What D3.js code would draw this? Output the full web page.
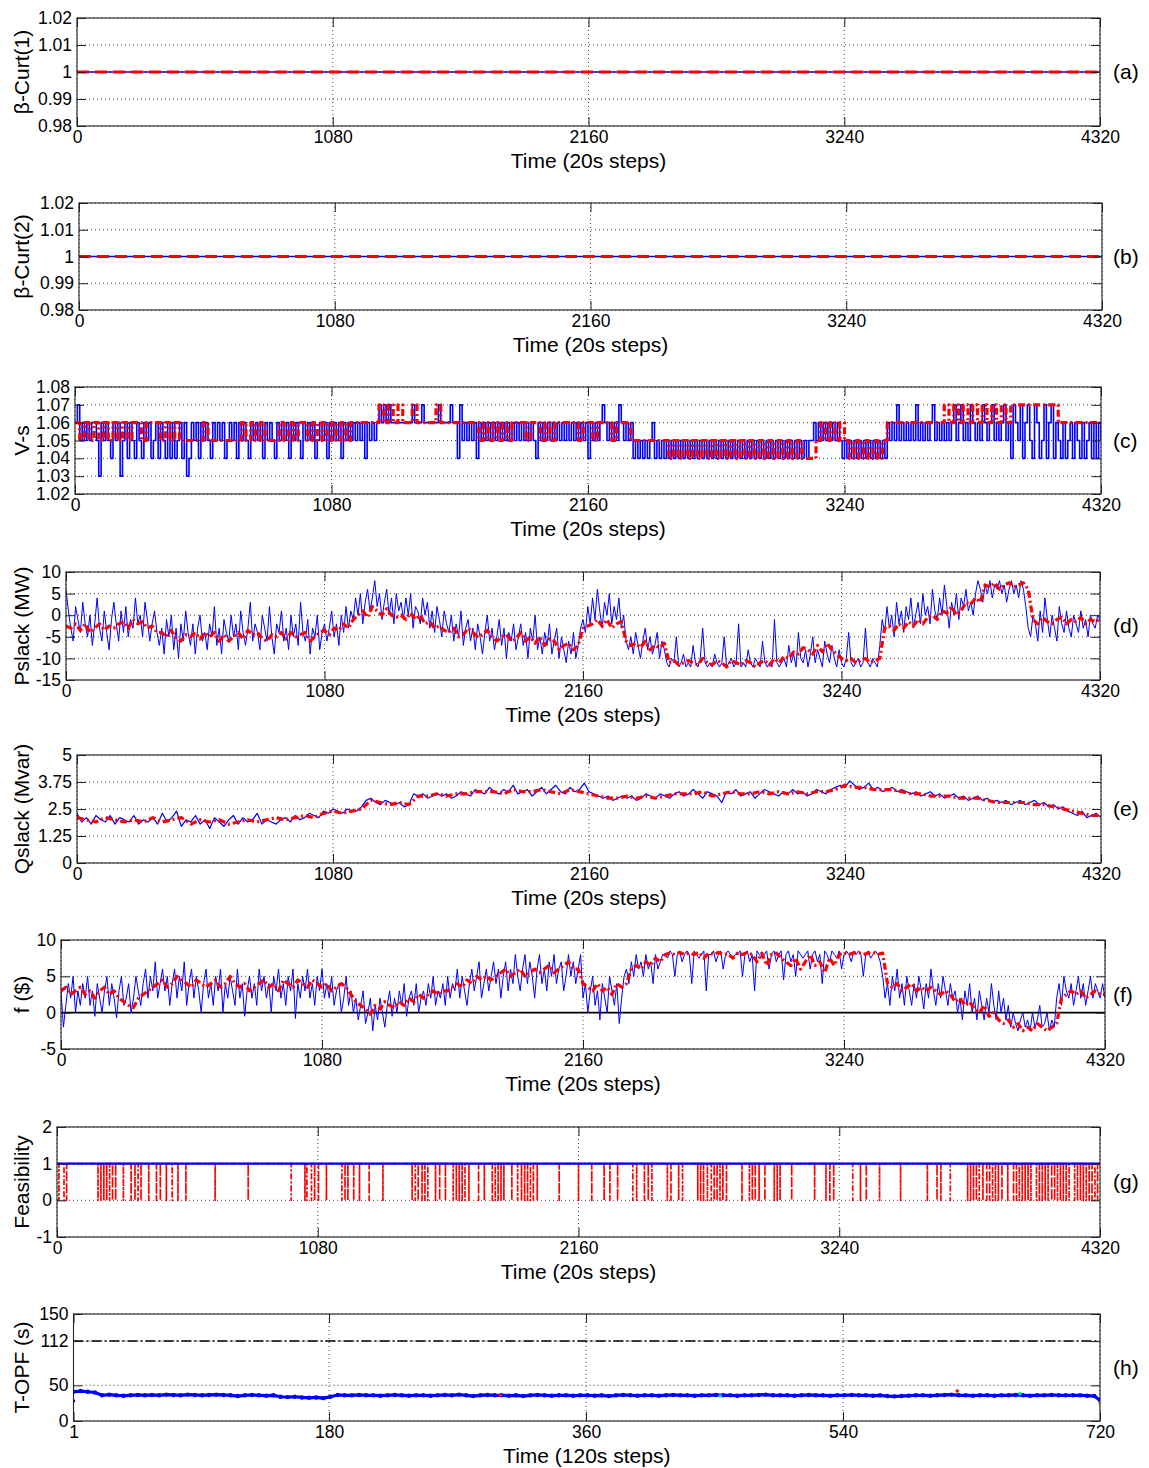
<!DOCTYPE html>
<html><head><meta charset="utf-8">
<script src="https://cdn.jsdelivr.net/npm/d3@7"></script>
<style>
body{margin:0;background:#fff;}
svg{display:block;font-family:"Liberation Sans",Arial,Helvetica,sans-serif;}
</style></head><body>
<svg id="chart" width="1149" height="1468"></svg>
<script>
// ---------------- DATA ----------------
const xTicks20 = [0, 1080, 2160, 3240, 4320];
const xTicks120 = [1, 180, 360, 540, 720];
const yTicksBeta = [0.98, 0.99, 1, 1.01, 1.02];
const yTicksVs = [1.02, 1.03, 1.04, 1.05, 1.06, 1.07, 1.08];
const yTicksP = [-15, -10, -5, 0, 5, 10];
const yTicksQ = [0, 1.25, 2.5, 3.75, 5];
const yTicksF = [-5, 0, 5, 10];
const yTicksFeas = [-1, 0, 1, 2];
const yTicksOPF = [0, 50, 112, 150];

// sampling intervals (time steps between stored samples)
const STEP_FINE = 10, STEP_MID = 20, STEP_COARSE = 40, STEP_OPF = 5;

// (a),(b) beta curtailment: constant at 1
const betaT = [0, 4320];
const beta1Blue = [1, 1], beta1Red = [1, 1];
const beta2Blue = [1, 1], beta2Red = [1, 1];

// (c) V-s, blue every 10 steps
const vsBlue = [
1.06,1.07,1.05,1.06,1.05,1.06,1.05,1.06,1.06,1.05,
1.03,1.06,1.05,1.06,1.05,1.04,1.06,1.05,1.06,1.03,
1.05,1.06,1.04,1.06,1.05,1.04,1.06,1.05,1.04,1.06,
1.05,1.06,1.04,1.05,1.06,1.04,1.06,1.05,1.04,1.06,
1.04,1.06,1.04,1.05,1.06,1.04,1.06,1.03,1.04,1.06,
1.05,1.06,1.04,1.06,1.05,1.06,1.05,1.04,1.06,1.05,
1.06,1.05,1.06,1.04,1.05,1.06,1.05,1.06,1.04,1.06,
1.05,1.06,1.05,1.04,1.06,1.05,1.06,1.05,1.06,1.04,
1.06,1.05,1.06,1.05,1.04,1.06,1.05,1.06,1.05,1.06,
1.04,1.06,1.05,1.06,1.05,1.04,1.06,1.05,1.06,1.05,
1.06,1.04,1.05,1.06,1.05,1.06,1.04,1.06,1.05,1.06,
1.05,1.06,1.04,1.06,1.05,1.06,1.05,1.06,1.05,1.06,
1.05,1.06,1.04,1.06,1.05,1.06,1.05,1.06,1.07,1.06,
1.07,1.06,1.07,1.06,1.06,1.06,1.06,1.06,1.06,1.06,
1.06,1.06,1.07,1.06,1.06,1.06,1.07,1.06,1.06,1.06,
1.06,1.06,1.06,1.07,1.06,1.06,1.06,1.06,1.07,1.06,
1.06,1.04,1.07,1.05,1.06,1.05,1.06,1.05,1.06,1.04,
1.06,1.05,1.06,1.05,1.06,1.05,1.06,1.05,1.06,1.05,
1.06,1.05,1.06,1.05,1.06,1.05,1.06,1.05,1.06,1.05,
1.06,1.05,1.06,1.05,1.04,1.06,1.05,1.06,1.05,1.06,
1.05,1.06,1.05,1.06,1.05,1.06,1.05,1.06,1.05,1.06,
1.05,1.06,1.05,1.06,1.05,1.06,1.04,1.06,1.05,1.06,
1.05,1.06,1.07,1.06,1.05,1.06,1.05,1.06,1.05,1.07,
1.06,1.05,1.06,1.05,1.06,1.04,1.05,1.04,1.05,1.04,
1.05,1.04,1.05,1.06,1.04,1.05,1.04,1.05,1.04,1.05,
1.04,1.05,1.04,1.05,1.04,1.05,1.04,1.05,1.04,1.05,
1.04,1.05,1.04,1.05,1.04,1.05,1.04,1.05,1.04,1.05,
1.04,1.05,1.04,1.05,1.04,1.05,1.04,1.05,1.04,1.05,
1.04,1.05,1.04,1.05,1.04,1.05,1.04,1.05,1.04,1.05,
1.04,1.05,1.04,1.05,1.04,1.05,1.04,1.05,1.04,1.05,
1.04,1.05,1.04,1.05,1.04,1.05,1.04,1.05,1.04,1.05,
1.05,1.06,1.05,1.06,1.05,1.06,1.05,1.06,1.05,1.06,
1.05,1.06,1.05,1.04,1.05,1.04,1.05,1.04,1.05,1.04,
1.05,1.04,1.05,1.04,1.05,1.04,1.05,1.04,1.05,1.04,
1.05,1.04,1.06,1.05,1.06,1.05,1.07,1.05,1.06,1.05,
1.06,1.05,1.06,1.05,1.07,1.05,1.06,1.05,1.06,1.05,
1.06,1.07,1.05,1.06,1.05,1.06,1.05,1.06,1.05,1.06,
1.07,1.05,1.06,1.07,1.05,1.06,1.05,1.07,1.06,1.05,
1.06,1.05,1.07,1.06,1.05,1.06,1.07,1.05,1.06,1.05,
1.06,1.07,1.05,1.06,1.04,1.07,1.06,1.05,1.07,1.04,
1.06,1.07,1.05,1.04,1.07,1.06,1.04,1.05,1.07,1.04,
1.06,1.07,1.04,1.06,1.05,1.04,1.06,1.04,1.05,1.06,
1.04,1.06,1.05,1.04,1.06,1.04,1.05,1.06,1.04,1.06,
1.04,1.06,1.05];
// (c) V-s, red every 20 steps
const vsRed = [
1.06,1.05,1.06,1.05,1.06,1.05,1.06,1.05,1.06,1.05,
1.06,1.05,1.06,1.06,1.05,1.06,1.06,1.06,1.05,1.06,
1.05,1.06,1.05,1.05,1.05,1.05,1.05,1.06,1.05,1.05,
1.05,1.05,1.05,1.05,1.05,1.06,1.05,1.06,1.05,1.06,
1.05,1.05,1.05,1.06,1.05,1.06,1.05,1.06,1.06,1.05,
1.06,1.05,1.06,1.05,1.06,1.05,1.06,1.05,1.06,1.06,
1.06,1.06,1.06,1.06,1.07,1.06,1.07,1.06,1.07,1.06,
1.06,1.07,1.06,1.06,1.06,1.06,1.07,1.06,1.06,1.06,
1.06,1.06,1.06,1.06,1.06,1.05,1.06,1.05,1.06,1.05,
1.06,1.05,1.06,1.06,1.06,1.05,1.06,1.06,1.05,1.06,
1.05,1.06,1.06,1.06,1.06,1.06,1.05,1.06,1.06,1.05,
1.06,1.06,1.06,1.05,1.06,1.06,1.06,1.05,1.05,1.05,
1.05,1.05,1.05,1.05,1.05,1.04,1.05,1.04,1.05,1.04,
1.05,1.04,1.05,1.04,1.05,1.04,1.05,1.04,1.05,1.04,
1.05,1.04,1.05,1.04,1.05,1.04,1.05,1.04,1.05,1.04,
1.05,1.04,1.05,1.04,1.04,1.04,1.05,1.06,1.05,1.06,
1.05,1.06,1.05,1.04,1.05,1.04,1.05,1.04,1.05,1.04,
1.05,1.06,1.06,1.06,1.06,1.06,1.06,1.06,1.06,1.06,
1.06,1.06,1.06,1.07,1.06,1.07,1.06,1.07,1.06,1.07,
1.06,1.07,1.06,1.07,1.06,1.07,1.06,1.07,1.07,1.07,
1.07,1.07,1.07,1.07,1.07,1.07,1.07,1.06,1.06,1.06,
1.06,1.06,1.06,1.06,1.06,1.06,1.06];

// (d) Pslack (MW): blue every 10 steps, red every 20 steps
const pBlue = [
6,1,-3,-6,2,-1,-4,3,-2,-5,
0,-7,-2,4,-3,-6,1,-4,-8,-1,
3,-2,-6,1,-4,2,-5,-1,-3,4,
-2,0,-5,3,-1,-6,-2,1,-4,-7,
-3,-9,-1,-5,0,-8,-3,-10,-2,-6,
1,-4,-7,-2,-9,-3,0,-6,-4,-8,
-2,-5,2,-7,-3,-9,-1,-4,-6,0,
-5,-2,-8,1,-4,-7,-3,3,-6,-2,
-4,-8,0,-3,-6,2,-5,-9,-2,-4,
1,-6,-3,-8,0,-5,-2,-7,3,-4,
-6,-1,-9,-3,-5,0,-8,-4,-2,-6,
-3,1,-5,-2,-7,0,-4,2,-3,1,
-1,4,0,5,-2,3,6,1,4,8,
2,5,-1,3,6,0,4,-2,5,1,
3,-1,4,0,5,-3,2,1,-2,4,
0,3,-3,1,-4,2,-1,-5,1,-2,
-4,0,-6,-2,-5,1,-7,-3,-1,-6,
-3,-8,-2,-5,-9,-4,0,-6,-3,-8,
-5,-1,-7,-3,-10,-4,-6,-2,-8,-5,
-2,-7,-4,-10,-3,-6,0,-8,-5,-9,
-4,-7,-2,-9,-6,-3,-10,-5,-8,-11,
-6,-9,-4,-10,-7,-3,-1,-4,2,-2,
4,-1,6,1,-3,3,0,5,-2,2,
-1,4,-3,0,-6,-8,-5,-9,-4,-7,
-10,-6,-3,-8,-5,-9,-7,-4,-10,-6,
-8,-11,-12,-10,-11,-5,-12,-11,-9,-12,
-11,-12,-7,-11,-12,-10,-3,-11,-12,-11,
-12,-9,-11,-12,-11,-5,-12,-11,-10,-12,
-11,-2,-12,-11,-12,-8,-11,-12,-10,-11,
-12,-6,-11,-12,-11,-12,-1,-11,-12,-11,
-10,-12,-7,-11,-9,-12,-4,-10,-11,-8,
-12,-9,-5,-11,-8,-10,-12,-6,-9,-11,
-7,-10,-12,-8,-11,-12,-10,-4,-11,-12,
-11,-10,-12,-11,-3,-11,-12,-10,-11,-12,
-7,-1,-4,2,-3,0,-5,3,-2,1,
-4,2,-1,4,-3,0,3,-2,5,0,
2,-2,6,1,-1,4,0,7,2,-3,
3,0,5,-1,4,2,6,1,3,0,
5,8,6,3,7,5,8,4,7,6,
8,5,7,3,6,8,5,7,4,8,
6,2,-3,-5,0,-2,-6,1,-4,4,
-1,-5,0,-3,-6,2,-2,-4,1,-3,
-5,0,-2,-4,1,-3,-1,-5,0,-2,
-3,0,-1];
const pRed = [
-2.5,-3,-2,-3.5,-2,-4,-3,-2,-3.5,-2.5,
-3,-2,-1.5,-3,-1,-2,-1.5,-3,-2.5,-4,
-4,-5,-3.5,-5.5,-6,-4.5,-5,-4,-5.5,-4,
-5,-4,-6,-4.5,-6,-5,-4,-5.5,-3.5,-4.5,
-4,-5.5,-6,-4.5,-5,-4,-5.5,-4,-5,-4.5,
-4,-6,-5,-4,-3.5,-4.5,-3,-3.5,-2,-3,
-1,0,1,-0.5,2,1,0,1.5,0,-0.5,
0,-1,0.5,-1,0,-2,-1.5,-3,-2.5,-3.5,
-4,-3,-5,-4.5,-3,-4,-5,-4.5,-3.5,-5,
-6,-5,-4.5,-6,-5.5,-4,-6,-5,-6.5,-5,
-7,-5.5,-6,-8,-7,-6.5,-8,-7,-3,-2.5,
-2,-1,-2.5,-1,-3,-2,-1.5,-6,-7,-6.5,
-7.5,-6,-8,-7,-7.5,-6.5,-11,-10.5,-11.5,-11,
-10.5,-11,-11.5,-10,-11,-11.5,-10.5,-11,-12,-10.5,
-11,-11.5,-10.5,-11,-12,-11,-10.5,-11.5,-10,-11,
-9.5,-10,-8.5,-9,-7.5,-8,-9,-7,-8.5,-6.5,
-8,-9,-10,-10.5,-10,-11,-10.5,-10,-11,-10.5,
-10,-3,-2.5,-3.5,-2,-3,-1.5,-2.5,-1,-2,
-0.5,0,-1,1,0.5,2,0,1,3,2.5,
4,3,7,6.5,7.5,6,7,7.5,6.5,7,
7.5,6,-1,-2,-0.5,-1.5,-2,-1,-0.5,-2,
-1,-1.5,-0.5,-2,-1,-1.5,-1];

// (e) Qslack (Mvar): blue every 20 steps, red every 40 steps
const qBlue = [
2.3,1.9,2.1,1.8,2.2,2.0,1.9,2.2,1.8,2.1,
2.0,1.9,2.2,1.8,2.0,1.9,2.1,1.8,2.3,1.9,
2.1,2.4,1.7,2.0,1.9,2.2,1.8,2.0,1.6,2.1,
1.9,1.7,2.0,2.2,1.8,2.1,1.9,2.0,2.3,1.8,
2.0,1.9,1.8,2.0,2.1,1.9,2.2,2.0,2.1,2.3,
2.2,2.1,2.4,2.3,2.5,2.4,2.3,2.5,2.4,2.4,
2.6,2.9,3.0,2.8,2.7,2.9,2.8,2.7,2.8,2.6,2.7,
3.2,3.1,3.2,3.0,3.1,3.2,3.1,3.2,3.0,3.1,3.3,3.2,3.1,3.4,3.3,
3.2,3.5,3.3,3.2,3.4,3.3,3.6,3.2,3.3,3.4,3.1,3.3,3.5,3.2,3.4,3.6,3.3,3.2,3.5,3.3,3.4,3.7,3.3,3.2,3.1,
3.0,3.1,2.9,3.0,3.1,3.0,3.1,2.9,3.0,3.2,3.1,3.0,3.2,3.1,3.0,
3.2,3.3,3.1,3.2,3.4,3.2,3.0,3.3,3.2,3.1,2.8,3.3,3.2,3.4,3.1,3.2,3.3,3.0,3.2,3.4,3.3,3.2,3.1,3.3,3.2,3.4,3.2,3.3,3.1,3.2,3.4,3.3,3.2,3.4,3.5,
3.6,3.5,3.8,3.6,3.4,3.5,3.7,3.4,3.5,3.3,3.4,3.5,3.3,3.4,3.3,
3.2,3.3,3.1,3.2,3.3,3.1,3.2,3.0,3.1,3.2,3.0,3.1,2.9,3.0,3.1,
2.9,3.0,2.8,2.9,2.8,2.9,2.7,2.8,2.9,2.7,2.8,2.9,2.7,2.8,2.6,
2.7,2.5,2.6,2.4,2.3,2.2,2.4,2.1,2.2,2.3,2.1];
const qRed = [
2.1,2.0,1.9,2.1,2.0,1.9,2.0,1.9,2.1,1.9,2.0,2.1,1.8,2.0,1.9,2.0,1.8,1.9,2.0,1.9,2.0,2.1,2.0,2.1,2.2,2.1,
2.3,2.4,2.3,2.4,2.5,
2.9,2.8,2.7,2.8,2.7,
3.1,3.1,3.2,3.1,3.2,3.2,3.3,
3.3,3.3,3.2,3.4,3.3,3.3,3.4,3.3,3.2,3.4,3.3,3.2,3.1,
3.0,3.0,3.1,3.0,3.1,3.0,3.1,
3.2,3.2,3.2,3.3,3.1,3.2,3.3,3.2,3.2,3.3,3.2,3.3,3.2,3.3,3.2,3.3,3.3,3.4,
3.6,3.5,3.5,3.4,3.4,3.4,3.3,
3.2,3.2,3.1,3.1,3.1,3.0,3.0,3.0,
2.9,2.8,2.8,2.8,2.8,2.7,2.7,
2.6,2.5,2.4,2.3,2.2,2.2];

// (f) f ($): blue every 10 steps, red every 20 steps
const fBlue = [
3,-2,1,4,2,5,0,3,1,4,
2,5,1,3,-0.5,4,2,0,3,5,
1,4,2,-0.7,3,5,1,2,4,0,
2,5,3,1,4,6,2,5,3,7,
2,4,6,3,5,1,4,6,2,5,
3,7,1,4,6,2,5,3,0,4,
6,2,4,1,5,3,6,0,4,2,
5,3,1,6,2,4,-0.5,3,5,2,
4,1,6,3,5,2,4,0,5,3,
6,2,4,1,5,3,6,-0.8,4,2,
5,3,6,2,4,1,5,3,6,2,
4,2,5,1,3,4,0,2,5,1,
3,0,2,-1,1,3,-1.5,0,2,-2.5,
1,-1,2,0,-2,1,3,-0.5,2,0,
3,1,4,-0.5,2,3,1,4,0,2,
3,1,4,2,5,1,3,2,4,1,
5,2,4,3,6,2,5,3,1,4,
6,3,5,7,2,4,6,3,5,7,
4,6,2,5,7,3,6,4,8,5,
3,6,8,4,7,5,2,6,8,4,
6,3,7,5,8,4,6,7,3,5,
8,5,7,4,6,8,2,4,0,3,
5,1,3,-1,4,2,0,5,3,1,
4,-1.5,2,5,6,4,7,5,8,6,
7,5,8,6,7,4,8,6,7,8,
8,7.5,8.5,8,5,8,8.5,7,8,8.5,
8,4,8.5,8,7.5,8,8.5,3,8,8,
8.5,7,8,8.5,6,8,8.5,8,7.5,8,
8,8.5,5,8,8.5,7,8,3,8.5,8,
7.5,8,8.5,6,8,8.5,7,8,8.5,4.5,
8,8.5,7,8,5,8.5,8,7.5,8,8.5,
6,8,8.5,7,8,4,8.5,8,7,8.5,
8,7.5,8.5,6,8,8.5,8,7,8.5,8,
8.5,8,5,8,8.5,7.5,8,8.5,8,7,
5,2,4,1,5,3,6,2,4,1,
5,3,1,4,2,5,3,0.5,4,2,
6,3,1,4,2,5,3,1,4,2,
3,0,2,-1,3,1,4,0,2,-1,
3,1,-1,2,0,4,1,-1,3,0,
2,-1,1,-2,0,-1.5,-2.5,-1,0,-2,
-1,-2.5,0,-2,-1,1,-2,-1.5,0,-2.5,
-1,-2,2,4,1,5,3,2,4,1,
3,5,2,4,1,3,5,2,4,3,
2,4,2];
const fRed = [
3,3.5,2.5,3,3.5,2.5,3,2,3,3.5,
2.5,3,2,1.5,1,0.7,2,2.5,3,3.5,
4,4.5,3.5,4,5,4.5,4,3.5,4.5,4,
3.5,4,4.5,3.5,4,5,4,3.5,4,3,
3.5,4,4.5,3.5,4,3,4.5,4,3.5,4.5,
4,3.5,4.5,4,3.5,4,3,3.5,4,3.5,
2.5,1.5,1,0.5,-0.2,1,0.5,1.5,1,0.7,
1.5,1,2,1.5,2.5,2,2.5,3,2.5,3,
3,3.5,4,3.5,4.5,4,5,4.5,5,4.5,
5,5.5,6,5,5.5,6,5,5.5,6,5.5,
6,6.5,5.5,6,6.5,7,6,6,4,3.5,
3,4,3,3.5,2.5,4,3.5,4,6,6.5,
6,7,6.5,7.5,7,8,8.2,8,8.3,8,
8.2,8,8.3,7.5,8.2,8,8.3,8,8.1,7.5,
8.2,8,8.3,8,7,8.2,6.5,8,8.2,7.5,
7,6.5,7.5,6,7,8,6.5,7,5.5,7.5,
6.5,8,8.2,8,8.2,8.3,8,8.2,8.3,8,
8.2,4,3.5,4,3,3.5,4,3,3.5,3,
3.5,3,2.5,3,2.5,1.5,2,1,1.5,0.5,
0,1,-0.5,0,-1,-1.5,-1,-2,-1.5,-2.5,
-2,-2.5,-1.5,-2,-2.5,-2,-1.5,2,2.5,3,
2.5,3,2,2.5,3,2.5,2.5];
const fZero = [0, 0];

// (g) Feasibility: time steps where the red signal drops to 0 (blue stays at 1)
const feasBlue = [1, 1];
const infeasT = [8,29,40,170,182,194,206,218,230,243,275,307,323,336,348,380,412,428,453,477,501,534,655,792,970,1027,1035,1054,1067,1083,1116,1180,1193,1205,1229,1253,1293,1350,1471,1484,1496,1512,1524,1536,1568,1585,1609,1641,1654,1666,1678,1690,1706,1746,1770,1803,1815,1827,1839,1851,1884,1908,1924,1937,1949,1961,1973,1989,2080,2160,2215,2266,2290,2322,2385,2401,2433,2449,2464,2528,2543,2575,2591,2654,2666,2678,2694,2710,2722,2734,2746,2758,2773,2837,2868,2880,2892,2908,2932,2971,2983,2995,3043,3138,3185,3201,3217,3296,3328,3352,3407,3494,3605,3645,3661,3700,3772,3784,3796,3808,3820,3835,3851,3863,3875,3887,3899,3914,3938,3962,3974,3986,3998,4010,4022,4034,4057,4069,4081,4093,4105,4120,4132,4144,4156,4168,4180,4192,4215,4227,4239,4251,4263,4275,4287,4299,4310];

// (h) T-OPF (s), every 5 steps from step 1, last sample at 720
const opfBlue = [
41,42,41,40,36,37,36,35.5,36,36.5,
36,36.5,36,37,36.5,36,37,36.5,36,36.5,
37,36.5,36,35,36,36.5,36,35.5,36,34,
33.5,34,33,32.5,33,32,34,36.5,36,36,
36.5,36,36,35.5,36,36.5,36,35.5,36,36,
35.5,36,36.5,36,37,36,35,36,36.5,36,
36,35.5,36,35,36,36.5,36,35.5,36,36,
35.5,36,36,35.5,36,35,36,36.5,36,35.5,
36,36,35.5,36,36.5,36,36,35.5,36,36,
36.5,36,36,35.5,36,36,36.5,37,36,36,
36,35.5,36,36.5,36,36,35.5,36,36,36.5,
36,36,35.5,36,35,34.5,35,35.5,36,36,
35.5,36,36.5,37,36,36,35.5,36,36,35.5,
36,36,36.5,36,35.5,36,36,36.5,36,36,
36,36,35.5,35,
29];
const opfLimit = [112, 112];
const opfStartLowT = [1], opfStartLowV = [28];
const opfRedT = [620, 300], opfRedV = [42, 36.5];
const opfCyanT = [664, 454], opfCyanV = [38.5, 35];
const opfYellowT = [720], opfYellowV = [25];

// ---------------- DRAWING ----------------
const svg = d3.select("#chart");
svg.append("rect").attr("width",1149).attr("height",1468).attr("fill","#fff");
const defs = svg.append("defs");
const TK = 9;
const FONT_TICK = 17.5, FONT_LAB = 21;

function panel(o){
  const x = d3.scaleLinear().domain(o.xd).range([o.l,o.r]);
  const y = d3.scaleLinear().domain(o.yd).range([o.b,o.t]);
  const id = "clip_"+o.tag;
  defs.append("clipPath").attr("id",id).append("rect")
    .attr("x",o.l).attr("y",o.t).attr("width",o.r-o.l).attr("height",o.b-o.t);
  const root = svg.append("g");
  const grid = root.append("g").attr("stroke","#333").attr("stroke-width",0.9)
    .attr("stroke-dasharray","1,3").attr("fill","none");
  o.xt.forEach(v=>grid.append("line").attr("x1",x(v)).attr("x2",x(v)).attr("y1",o.t).attr("y2",o.b));
  o.yt.forEach(v=>grid.append("line").attr("x1",o.l).attr("x2",o.r).attr("y1",y(v)).attr("y2",y(v)));
  const data = root.append("g").attr("clip-path",`url(#${id})`);
  const frame = root.append("g");
  const style = g=>{
    g.select(".domain").remove();
    g.selectAll(".tick line").attr("stroke","#222").attr("stroke-width",1);
    g.selectAll("text").attr("font-size",FONT_TICK).attr("fill","#000")
      .attr("font-family","'Liberation Sans',Arial,sans-serif");
  };
  frame.append("g").attr("transform",`translate(0,${o.b})`)
    .call(d3.axisBottom(x).tickValues(o.xt).tickFormat(d=>String(d)).tickSizeInner(-TK).tickSizeOuter(0).tickPadding(5)).call(style);
  frame.append("g").attr("transform",`translate(0,${o.t})`)
    .call(d3.axisTop(x).tickValues(o.xt).tickFormat("").tickSizeInner(-TK).tickSizeOuter(0)).call(style);
  frame.append("g").attr("transform",`translate(${o.l},0)`)
    .call(d3.axisLeft(y).tickValues(o.yt).tickFormat(d=>String(d)).tickSizeInner(-TK).tickSizeOuter(0).tickPadding(5)).call(style);
  frame.append("g").attr("transform",`translate(${o.r},0)`)
    .call(d3.axisRight(y).tickValues(o.yt).tickFormat("").tickSizeInner(-TK).tickSizeOuter(0)).call(style);
  frame.append("rect").attr("x",o.l).attr("y",o.t).attr("width",o.r-o.l).attr("height",o.b-o.t)
    .attr("fill","none").attr("stroke","#222").attr("stroke-width",1.1);
  frame.append("text").attr("x",(o.l+o.r)/2).attr("y",o.b+35).attr("dy","0.35em")
    .attr("text-anchor","middle").attr("font-size",FONT_LAB).text(o.xlabel);
  frame.append("text").attr("transform",`translate(22,${(o.t+o.b)/2}) rotate(-90)`)
    .attr("dy","0.35em").attr("text-anchor","middle").attr("font-size",FONT_LAB).text(o.ylabel);
  frame.append("text").attr("x",1113).attr("y",(o.t+o.b)/2).attr("dy","0.35em")
    .attr("font-size",FONT_LAB).text(o.tagText);
  return {x,y,data};
}

function seriesPts(vals, step){ return vals.map((v,i)=>[ i*step, v ]); }
function drawLine(P, pts, color, width, dash, curve){
  const line = d3.line().x(d=>P.x(d[0])).y(d=>P.y(d[1]));
  if(curve) line.curve(curve);
  const path = P.data.append("path").datum(pts).attr("d",line).attr("fill","none")
    .attr("stroke",color).attr("stroke-width",width).attr("stroke-linejoin","round");
  if(dash) path.attr("stroke-dasharray",dash);
  return path;
}
const BLUE="#0000ff", RED="#ff0000";
const RED_DASH = "7,3,2,3";

// (a)
const A = panel({tag:"a",tagText:"(a)",l:77,r:1100,t:18,b:126,xd:[0,4320],yd:[0.98,1.02],xt:xTicks20,yt:yTicksBeta,xlabel:"Time (20s steps)",ylabel:"β-Curt(1)"});
drawLine(A, betaT.map((t,i)=>[t,beta1Blue[i]]), BLUE, 1.5);
drawLine(A, betaT.map((t,i)=>[t,beta1Red[i]]), RED, 3, "12,6");
// (b)
const B = panel({tag:"b",tagText:"(b)",l:79,r:1102,t:203,b:310,xd:[0,4320],yd:[0.98,1.02],xt:xTicks20,yt:yTicksBeta,xlabel:"Time (20s steps)",ylabel:"β-Curt(2)"});
drawLine(B, betaT.map((t,i)=>[t,beta2Blue[i]]), BLUE, 1.5);
drawLine(B, betaT.map((t,i)=>[t,beta2Red[i]]), RED, 3, "12,6");
// (c)
const C = panel({tag:"c",tagText:"(c)",l:75,r:1101,t:387,b:494,xd:[0,4320],yd:[1.02,1.08],xt:xTicks20,yt:yTicksVs,xlabel:"Time (20s steps)",ylabel:"V-s"});
drawLine(C, seriesPts(vsBlue, STEP_FINE), BLUE, 1.6, null, d3.curveStepAfter);
drawLine(C, seriesPts(vsRed, STEP_MID), RED, 3.2, RED_DASH, d3.curveStepAfter);
// (d)
const D = panel({tag:"d",tagText:"(d)",l:66,r:1100,t:572,b:680,xd:[0,4320],yd:[-15,10],xt:xTicks20,yt:yTicksP,xlabel:"Time (20s steps)",ylabel:"Pslack (MW)"});
drawLine(D, seriesPts(pBlue, STEP_FINE), BLUE, 1);
drawLine(D, seriesPts(pRed, STEP_MID), RED, 3.2, RED_DASH);
// (e)
const E = panel({tag:"e",tagText:"(e)",l:77,r:1101,t:755,b:863,xd:[0,4320],yd:[0,5],xt:xTicks20,yt:yTicksQ,xlabel:"Time (20s steps)",ylabel:"Qslack (Mvar)"});
drawLine(E, seriesPts(qBlue, STEP_MID), BLUE, 1.2);
drawLine(E, seriesPts(qRed, STEP_COARSE), RED, 3.2, RED_DASH);
// (f)
const F = panel({tag:"f",tagText:"(f)",l:61,r:1105,t:940,b:1049,xd:[0,4320],yd:[-5,10],xt:xTicks20,yt:yTicksF,xlabel:"Time (20s steps)",ylabel:"f ($)"});
drawLine(F, betaT.map((t,i)=>[t,fZero[i]]), "#000", 1.6);
drawLine(F, seriesPts(fBlue, STEP_FINE), BLUE, 1);
drawLine(F, seriesPts(fRed, STEP_MID), RED, 3.2, RED_DASH);
// (g)
const G = panel({tag:"g",tagText:"(g)",l:57,r:1100,t:1127,b:1237,xd:[0,4320],yd:[-1,2],xt:xTicks20,yt:yTicksFeas,xlabel:"Time (20s steps)",ylabel:"Feasibility"});
const gPts = [[0,1]];
infeasT.forEach(t=>{ gPts.push([t,1],[t,0],[t,1]); });
gPts.push([4320,1]);
drawLine(G, gPts, RED, 1.7, "6,2,2,2");
drawLine(G, betaT.map((t,i)=>[t,feasBlue[i]]), BLUE, 2.2);
// (h)
const Hp = panel({tag:"h",tagText:"(h)",l:73.5,r:1100,t:1314,b:1421,xd:[1,720],yd:[0,150],xt:xTicks120,yt:yTicksOPF,xlabel:"Time (120s steps)",ylabel:"T-OPF (s)"});
drawLine(Hp, [[1,opfLimit[0]],[720,opfLimit[1]]], "#000", 1.5, "10,3,2,3");
const opfPts = opfBlue.map((v,i)=> [Math.min(1+i*STEP_OPF, 720), v]);
drawLine(Hp, opfPts, BLUE, 3.2);
function dots(T,V,color,r){
  Hp.data.append("g").selectAll("circle").data(T.map((t,i)=>[t,V[i]])).join("circle")
    .attr("cx",d=>Hp.x(d[0])).attr("cy",d=>Hp.y(d[1])).attr("r",r||1.8).attr("fill",color);
}
dots(opfPts.map(d=>d[0]), opfPts.map(d=>d[1]), BLUE, 2.2);
dots(opfStartLowT, opfStartLowV, BLUE);
dots(opfRedT, opfRedV, RED);
dots(opfCyanT, opfCyanV, "#00e0e0");
dots(opfYellowT, opfYellowV, "#c8b400");
</script>
</body></html>
